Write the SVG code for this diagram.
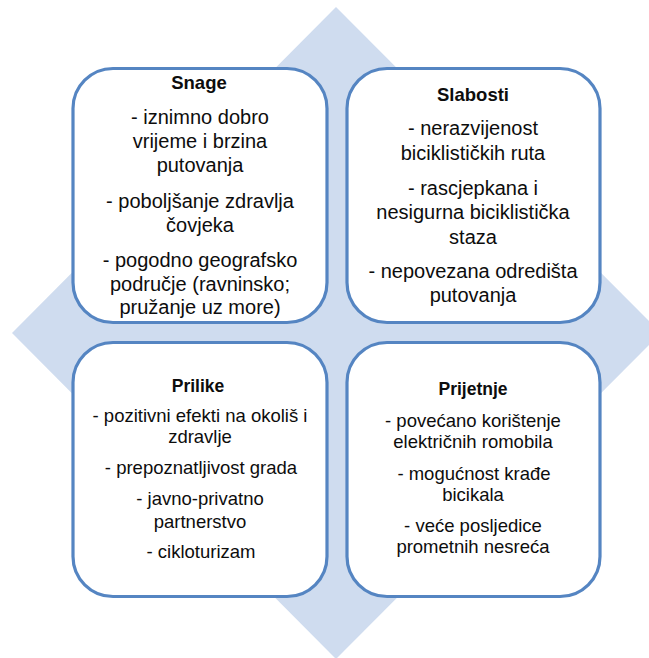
<svg xmlns="http://www.w3.org/2000/svg" width="649" height="658" viewBox="0 0 649 658">
<style>
.box{fill:#ffffff;stroke:#5585c2;stroke-width:3.2}
.t{font-family:"Liberation Sans",Arial,sans-serif;fill:#0d0d0d;text-anchor:middle}
.top{font-size:20px}
.bot{font-size:18.5px}
.h{font-weight:bold;font-size:18.5px}
.hb{font-weight:bold;font-size:17.5px}
</style>
<rect width="649" height="658" fill="#ffffff"/>
<polygon id="diamond" points="336,7 661,333 336,659 12,333" fill="#cfdcef"/>
<g id="connectors"></g>
<g id="snage">
<rect class="box" x="73" y="68.5" width="254" height="254" rx="40" ry="40"/>
<text class="t h" x="199" y="89">Snage</text>
<text class="t top" x="200" y="124">- iznimno dobro</text>
<text class="t top" x="200" y="148">vrijeme i brzina</text>
<text class="t top" x="200" y="172">putovanja</text>
<text class="t top" x="200" y="208">- poboljšanje zdravlja</text>
<text class="t top" x="200" y="232">čovjeka</text>
<text class="t top" x="200" y="267">- pogodno geografsko</text>
<text class="t top" x="200" y="291">područje (ravninsko;</text>
<text class="t top" x="200" y="314">pružanje uz more)</text>
</g>
<g id="slabosti">
<rect class="box" x="347" y="68.5" width="253" height="254" rx="40" ry="40"/>
<text class="t h" x="473" y="101">Slabosti</text>
<text class="t top" x="473" y="135">- nerazvijenost</text>
<text class="t top" x="473" y="160">biciklističkih ruta</text>
<text class="t top" x="473" y="195">- rascjepkana i</text>
<text class="t top" x="473" y="219">nesigurna biciklistička</text>
<text class="t top" x="473" y="244">staza</text>
<text class="t top" x="473" y="278">- nepovezana odredišta</text>
<text class="t top" x="473" y="302">putovanja</text>
</g>
<g id="prilike">
<rect class="box" x="73" y="342.5" width="254" height="254" rx="40" ry="40"/>
<text class="t hb" x="198" y="392">Prilike</text>
<text class="t bot" x="200" y="422">- pozitivni efekti na okoliš i</text>
<text class="t bot" x="200" y="443">zdravlje</text>
<text class="t bot" x="201" y="474">- prepoznatljivost grada</text>
<text class="t bot" x="200" y="505">- javno-privatno</text>
<text class="t bot" x="200" y="528">partnerstvo</text>
<text class="t bot" x="201" y="558">- cikloturizam</text>
</g>
<g id="prijetnje">
<rect class="box" x="347" y="342.5" width="253" height="254" rx="40" ry="40"/>
<text class="t hb" x="473" y="395">Prijetnje</text>
<text class="t bot" x="473" y="427">- povećano korištenje</text>
<text class="t bot" x="473" y="448">električnih romobila</text>
<text class="t bot" x="474" y="480">- mogućnost krađe</text>
<text class="t bot" x="473" y="501">bicikala</text>
<text class="t bot" x="473" y="532">- veće posljedice</text>
<text class="t bot" x="473" y="553">prometnih nesreća</text>
</g>
</svg>
